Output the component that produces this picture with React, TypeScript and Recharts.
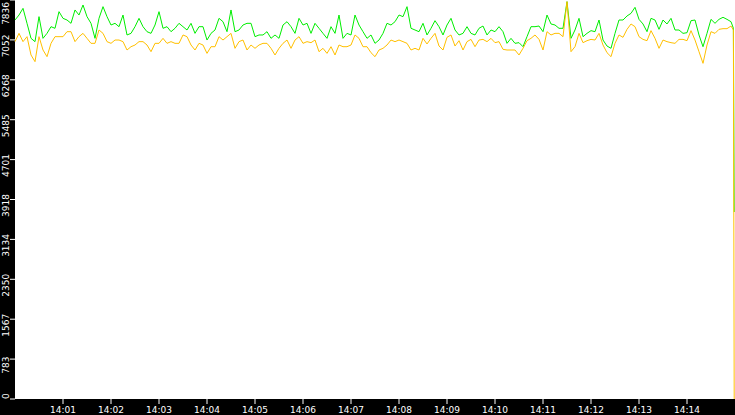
import { CartesianGrid, Line, LineChart, XAxis, YAxis } from "recharts";

// sampled every 5 s from 14:00:00; the last two samples are at 14:14:58 and 14:14:59
const greenSeries = [
	7443, 7541, 7672, 7378, 7083, 7018, 7509, 7083, 7181, 7312, 7280, 7607, 7476, 7443, 7378,
	7640, 7541, 7738, 7509, 7378, 7083, 7476, 7705, 7509, 7345, 7378, 7312, 7541, 7149, 7181,
	7312, 7476, 7312, 7214, 7181, 7345, 7607, 7280, 7312, 7214, 7280, 7378, 7312, 7247, 7378,
	7181, 7312, 7312, 7050, 7181, 7247, 7476, 7410, 7214, 7640, 7214, 7247, 7345, 7378, 7378,
	7116, 7149, 7149, 7214, 7083, 7149, 7083, 7345, 7410, 7312, 7181, 7476, 7345, 7378, 7181,
	7378, 7280, 7181, 7083, 7312, 7181, 7541, 7083, 7181, 7149, 7541, 7345, 7214, 7083, 7149,
	6985, 7050, 7181, 7378, 7345, 7410, 7541, 7509, 7705, 7280, 7247, 7214, 7378, 7149, 7280,
	7430, 7312, 7149, 7345, 7476, 7247, 7149, 7181, 7312, 7181, 7149, 7280, 7325, 7149, 7247,
	7214, 7312, 7214, 6985, 7083, 6985, 6998, 6919, 7116, 7312, 7312, 7325, 7214, 7541, 7365,
	7345, 7280, 7280, 7803, 7083, 7247, 7476, 7116, 7181, 7234, 7214, 7443, 7050, 6932, 6887,
	7181, 7443, 7443, 7522, 7574, 7692, 7456, 7365, 7214, 7476, 7443, 7260, 7443, 7365, 7476,
	7247, 7247, 7181, 7194, 7430, 7443, 7149, 6919, 7181, 7456, 7378, 7456, 7496, 7456, 7410,
	7280, 3672,
];

const yellowSeries = [
	7018, 7181, 7018, 7116, 6756, 6625, 7116, 6854, 6723, 6985, 7116, 7116, 7116, 7214, 7214,
	7018, 7116, 7181, 7083, 6985, 6985, 7247, 7181, 7018, 6985, 7050, 7050, 7018, 6854, 6919,
	6952, 7018, 7018, 6952, 6821, 6985, 6985, 7083, 6985, 7018, 6985, 6985, 7149, 7116, 6952,
	6854, 6985, 6952, 6788, 6919, 6919, 7116, 7050, 7116, 7181, 6887, 7018, 7050, 6854, 6952,
	6887, 6952, 6985, 6985, 6887, 6756, 6887, 6985, 7050, 6887, 7050, 7116, 6985, 7018, 6998,
	7050, 6821, 6887, 6788, 6919, 6756, 6952, 6919, 6919, 6952, 7149, 7083, 6919, 6919, 6801,
	6723, 6854, 6887, 6952, 7050, 7018, 7050, 7018, 6985, 6854, 6887, 6854, 7083, 6972, 7083,
	7181, 6932, 6854, 7103, 7149, 6932, 7037, 6854, 7018, 7063, 6919, 7050, 7063, 7018, 7083,
	6998, 7018, 6867, 6854, 6854, 6854, 6756, 6887, 7037, 7083, 7149, 7063, 6854, 7214, 7149,
	7181, 7181, 7116, 7803, 6821, 6919, 7181, 6998, 7037, 7063, 7050, 7181, 6952, 6801, 6723,
	6985, 7149, 7103, 7260, 7365, 7312, 7116, 7063, 7037, 7234, 7083, 6887, 7050, 7018, 6998,
	6985, 7063, 7063, 7037, 7234, 7050, 6821, 6592, 6952, 7214, 7181, 7260, 7273, 7273, 7325,
	7247, 0,
];

const sampleStep = 5;
const tailSeconds = [898, 899];

const xTicks = [60, 120, 180, 240, 300, 360, 420, 480, 540, 600, 660, 720, 780, 840];
const xTickLabels = [
	"14:01", "14:02", "14:03", "14:04", "14:05", "14:06", "14:07",
	"14:08", "14:09", "14:10", "14:11", "14:12", "14:13", "14:14",
];

const yTicks = [0, 783.6, 1567.2, 2350.8, 3134.4, 3918, 4701.6, 5485.2, 6268.8, 7052.4, 7836];
const yTickLabels = ["0", "783", "1567", "2350", "3134", "3918", "4701", "5485", "6268", "7052", "7836"];

const regularCount = greenSeries.length - tailSeconds.length;
const data = greenSeries.map((g, i) => ({
	t: i < regularCount ? i * sampleStep : tailSeconds[i - regularCount],
	green: g,
	yellow: yellowSeries[i],
}));

const FONT = "'DejaVu Sans', Verdana, sans-serif";
const PLOT_BOTTOM = 399;

const YTick = (props: any) => {
	const { y, index } = props;
	const label = yTickLabels[index] ?? "";
	const half = (label.length * 5.7) / 2;
	let yc = y + 6;
	if (yc - half < 2) yc = 2 + half;
	if (yc + half > PLOT_BOTTOM) yc = PLOT_BOTTOM - half;
	return (
		<text
			x={0}
			y={0}
			transform={`translate(8.5, ${yc}) rotate(-90)`}
			textAnchor="middle"
			fill="#fff"
			fontSize={9}
			fontFamily={FONT}
		>
			{label}
		</text>
	);
};

const XTick = (props: any) => {
	const { x, index } = props;
	return (
		<text x={x} y={413} textAnchor="middle" fill="#fff" fontSize={9} fontFamily={FONT}>
			{xTickLabels[index]}
		</text>
	);
};

export default function App() {
	return (
		<div
			style={{
				position: "absolute",
				left: 0,
				top: 0,
				width: 735,
				height: 415,
				background: "#000",
			}}
		>
			<LineChart
				width={735}
				height={415}
				data={data}
				margin={{ top: 0, right: 0, left: 0, bottom: 0 }}
			>
				<CartesianGrid fill="#fff" horizontal={false} vertical={false} />
				<XAxis
					dataKey="t"
					type="number"
					domain={[0, 900]}
					ticks={xTicks}
					height={16}
					axisLine={false}
					tickLine={{ stroke: "#fff", strokeWidth: 1 }}
					tickSize={5}
					tick={<XTick />}
					interval={0}
				/>
				<YAxis
					type="number"
					domain={[0, 7836]}
					ticks={yTicks}
					width={15}
					axisLine={false}
					tickLine={{ stroke: "#fff", strokeWidth: 1 }}
					tickSize={5}
					tick={<YTick />}
					interval={0}
				/>
				<Line
					type="linear"
					dataKey="green"
					stroke="#00ee00"
					strokeWidth={1}
					dot={false}
					isAnimationActive={false}
				/>
				<Line
					type="linear"
					dataKey="yellow"
					stroke="#ffc000"
					strokeWidth={1}
					dot={false}
					isAnimationActive={false}
				/>
			</LineChart>
		</div>
	);
}
